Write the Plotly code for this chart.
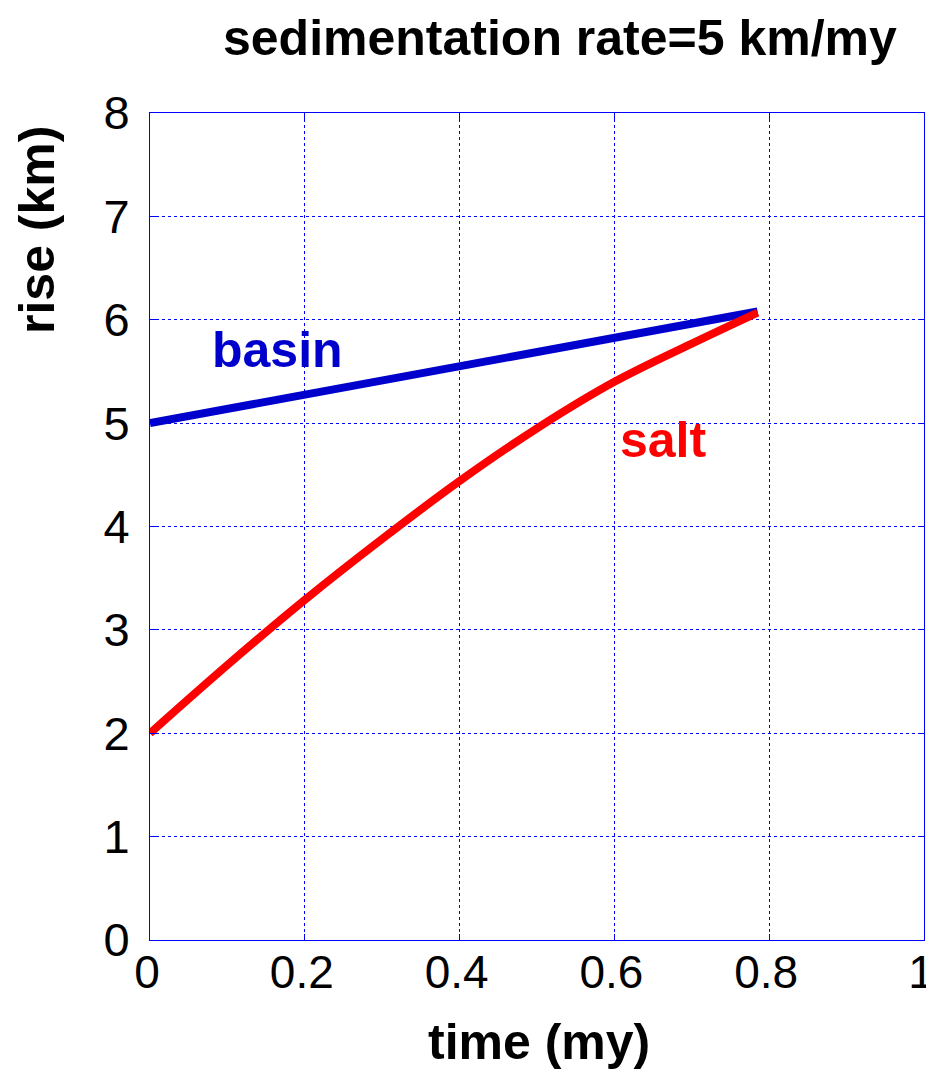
import plotly.graph_objects as go

basin_time = [0.0, 0.2, 0.4, 0.6, 0.785]
basin_rise = [5.0, 5.28, 5.55, 5.83, 6.08]

salt_time = [0.0, 0.1, 0.2, 0.3, 0.4, 0.5, 0.6, 0.7, 0.785]
salt_rise = [2.0, 2.66, 3.29, 3.88, 4.44, 4.95, 5.40, 5.77, 6.07]

x_ticks = [0, 0.2, 0.4, 0.6, 0.8, 1]
x_tick_labels = ["0", "0.2", "0.4", "0.6", "0.8", "1"]
y_ticks = [0, 1, 2, 3, 4, 5, 6, 7, 8]

BLUE = "#0000cc"
RED = "#ff0000"
FONT = "Liberation Sans, Arial, sans-serif"

# page has an 8px body margin; compensate so the plot lands where the reference has it
OFF = 8
W, H = 934 - OFF, 1080 - 2 * OFF
X0, X1, Y0, Y1 = 150, 924, 113, 940  # plot area in screen pixels


def px(x):
    return (x - X0) / (X1 - X0)


def py(y):
    return (Y1 - y) / (Y1 - Y0)


fig = go.Figure()
fig.add_trace(go.Scatter(x=basin_time, y=basin_rise, mode="lines",
                         line=dict(color=BLUE, width=8), showlegend=False))
fig.add_trace(go.Scatter(x=salt_time, y=salt_rise, mode="lines",
                         line=dict(color=RED, width=8, shape="spline"), showlegend=False))

axis_common = dict(
    showgrid=True, gridcolor="#0000ff", griddash="3px,3px", gridwidth=1,
    showline=True, linecolor="#0000ff", linewidth=1, mirror="ticks",
    ticks="inside", ticklen=6, tickcolor="#0000ff",
    ticklabeloverflow="allow", automargin=False,
    zeroline=False,
)

bold = dict(family=FONT, size=50, color="black")

fig.update_layout(
    width=W, height=H,
    margin=dict(l=X0 - OFF, r=W - (X1 - OFF), t=Y0 - OFF, b=H - (Y1 - OFF),
                autoexpand=False),
    paper_bgcolor="white", plot_bgcolor="white",
    xaxis=dict(range=[0, 1], tickvals=x_ticks, ticktext=x_tick_labels,
               ticklabelstandoff=-8, ticklabelshift=-3,
               tickfont=dict(family=FONT, size=46, color="black"), **axis_common),
    yaxis=dict(range=[0, 8], tickvals=y_ticks, ticklabelstandoff=10,
               tickfont=dict(family=FONT, size=47, color="black"), **axis_common),
    annotations=[
        dict(text="<b>sedimentation rate=5 km/my</b>", x=px(560), y=py(OFF),
             xref="paper", yref="paper", xanchor="center", yanchor="top",
             showarrow=False, font=bold),
        dict(text="<b>time (my)</b>", x=px(539), y=py(1072), xref="paper", yref="paper",
             xanchor="center", yanchor="bottom", showarrow=False, font=bold),
        dict(text="<b>rise (km)</b>", textangle=-90, x=px(37), y=py(230),
             xref="paper", yref="paper", xanchor="center", yanchor="middle",
             showarrow=False, font=bold),
        dict(text="<b>basin</b>", x=0.165, y=5.71, xref="x", yref="y", showarrow=False,
             font=dict(family=FONT, size=50, color=BLUE)),
        dict(text="<b>salt</b>", x=0.663, y=4.84, xref="x", yref="y", showarrow=False,
             font=dict(family=FONT, size=50, color=RED)),
    ],
)

fig.write_html("out.html")
